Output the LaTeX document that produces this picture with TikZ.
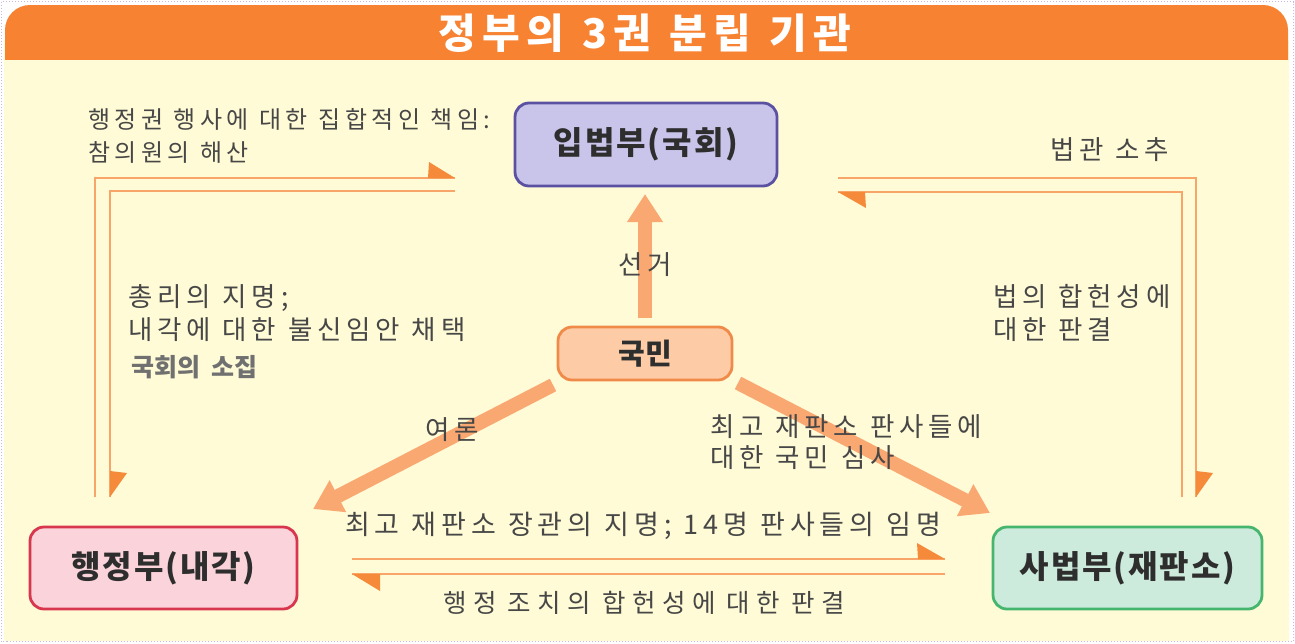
\documentclass[tikz,border=0pt]{standalone}
\usepackage{fontspec}
\newfontfamily\krno{Noto Sans CJK KR}
\newfontfamily\krls[LetterSpace=18]{Noto Sans CJK KR}
\newfontfamily\krlt[LetterSpace=25]{Noto Sans CJK KR}
\newfontfamily\krtt[LetterSpace=15]{Noto Sans CJK KR}
\newfontfamily\krnode[LetterSpace=6]{Noto Sans CJK KR}
\usetikzlibrary{arrows.meta}
\newcommand\labfont[2]{\krls\fontsize{#1}{#2}\selectfont\spaceskip 0.45em\relax}
\newcommand\widefont[2]{\krlt\fontsize{#1}{#2}\selectfont\spaceskip 0.45em\relax}
\newcommand\titlefont{\krtt\fontsize{41}{44}\selectfont\bfseries\spaceskip 0.45em\relax}
\newcommand\nodefont{\krnode\fontsize{32}{35}\selectfont\bfseries}
\newcommand\notefont{\krno\fontsize{25}{28}\selectfont\bfseries\spaceskip 0.45em\relax}
\definecolor{cream}{HTML}{FFFBD6}
\definecolor{header}{HTML}{F78232}
\definecolor{frame}{HTML}{C9B9E2}
\definecolor{legfill}{HTML}{C9C5EA}
\definecolor{legdraw}{HTML}{5B51A3}
\definecolor{pplfill}{HTML}{FDCBA5}
\definecolor{ppldraw}{HTML}{F08A48}
\definecolor{exefill}{HTML}{FBD3DA}
\definecolor{exedraw}{HTML}{D8354E}
\definecolor{judfill}{HTML}{CDEBDC}
\definecolor{juddraw}{HTML}{46B56E}
\definecolor{thinc}{HTML}{F8A56A}
\definecolor{tric}{HTML}{F58A3A}
\definecolor{thickc}{HTML}{F9A872}
\definecolor{labc}{HTML}{474747}
\definecolor{boxtxt}{HTML}{2E2E2E}
\begin{document}
\begin{tikzpicture}[x=1pt,y=-1pt,
  organ/.style={rounded corners=14pt, line width=2.8pt, inner sep=0pt,
    font=\nodefont, text=boxtxt},
  lab/.style={anchor=west, inner sep=0pt, align=left, text=labc,
    font=\labfont{26.5}{33}},
  thinline/.style={draw=thinc, line width=2.8pt},
  halftip/.style={fill=tric},
  bigarrow/.style={draw=thickc, line width=14pt,
    -{Triangle[width=34pt,length=28pt]}, fill=thickc}
]
\useasboundingbox (0,0) rectangle (1295,643);
\fill[white] (0,0) rectangle (1295,643);
\draw[frame, dotted, line width=1pt] (1.5,1.5) rectangle (1293,641.5);
\fill[cream] (4,40) rectangle (1289,641);
\fill[header, rounded corners=25pt] (5,5) rectangle (1288,110);
\fill[cream] (4,60) rectangle (1289,120);
\node[text=white, font=\titlefont, inner sep=0pt] (title) at (645,33) {정부의 3권 분립 기관};

% organs
\node[organ, fill=legfill, draw=legdraw, minimum width=262pt, minimum height=83pt] (leg) at (646,144.5) {입법부(국회)};
\node[organ, fill=pplfill, draw=ppldraw, minimum width=174pt, minimum height=53pt, font=\krno\fontsize{29}{32}\selectfont\bfseries] (ppl) at (645,353.5) {국민};
\node[organ, fill=exefill, draw=exedraw, minimum width=267pt, minimum height=82pt] (exe) at (163.5,568) {행정부(내각)};
\node[organ, fill=judfill, draw=juddraw, minimum width=269pt, minimum height=82pt] (jud) at (1127.5,568) {사법부(재판소)};

% coordinates for connectors
\coordinate (a1) at (95,497);   \coordinate (a2) at (455,178);
\coordinate (b1) at (455,191);  \coordinate (b2) at (110,497);
\coordinate (c1) at (838,178);  \coordinate (c2) at (1196,497);
\coordinate (d1) at (1182,497); \coordinate (d2) at (838,192);
\coordinate (e1) at (352,559);  \coordinate (e2) at (945,559);
\coordinate (f1) at (945,574);  \coordinate (f2) at (352,574);
\coordinate (pu) at (645,318);  \coordinate (lu) at (645,194);
\coordinate (pl) at (553,385);  \coordinate (el) at (313,509);
\coordinate (pr) at (738,383);  \coordinate (jr) at (990,513);

% thin connectors
\draw[thinline] (a1) |- (a2);
\fill[halftip] (a2) -- ++(-27,0) -- ++(1,-16) -- cycle;
\draw[thinline] (b1) -| (b2);
\fill[halftip] (b2) -- ++(0,-26) -- ++(17,2) -- cycle;
\draw[thinline] (c1) -| (c2);
\fill[halftip] (c2) -- ++(0,-26) -- ++(17,2) -- cycle;
\draw[thinline] (d1) |- (d2);
\fill[halftip] (d2) -- ++(27,0) -- ++(1,16) -- cycle;
\draw[thinline] (e1) -- (e2);
\fill[halftip] (e2) -- ++(-27,0) -- ++(-1,-16) -- cycle;
\draw[thinline] (f1) -- (f2);
\fill[halftip] (f2) -- ++(28,0) -- ++(0,17) -- cycle;

% thick arrows from the people
\draw[bigarrow] (pu) -- (lu);
\draw[bigarrow] (pl) -- (el);
\draw[bigarrow] (pr) -- (jr);

% labels
\node[lab, font=\labfont{24}{33}] (t1) at (88,136) {행정권 행사에 대한 집합적인 책임:\\참의원의 해산};
\node[lab] (t2) at (1050,150) {법관 소추};
\node[lab] (t3) at (618,265) {선거};
\node[lab] (t4) at (128,313) {총리의 지명;\\내각에 대한 불신임안 채택};
\node[anchor=west, inner sep=0pt, text=black!56, font=\notefont] (t5) at (131,367) {국회의 소집};
\node[lab] (t6) at (993,313) {법의 합헌성에\\대한 판결};
\node[lab] (t7) at (425,430) {여론};
\node[lab, font=\labfont{26.5}{31}] (t8) at (710,442) {최고 재판소 판사들에\\대한 국민 심사};
\node[lab, font=\labfont{27}{30}] (t9) at (345,526) {최고 재판소 장관의 지명; 14명 판사들의 임명};
\node[lab, font=\widefont{25.5}{30}] (t10) at (443,603) {행정 조치의 합헌성에 대한 판결};
\end{tikzpicture}
\end{document}
